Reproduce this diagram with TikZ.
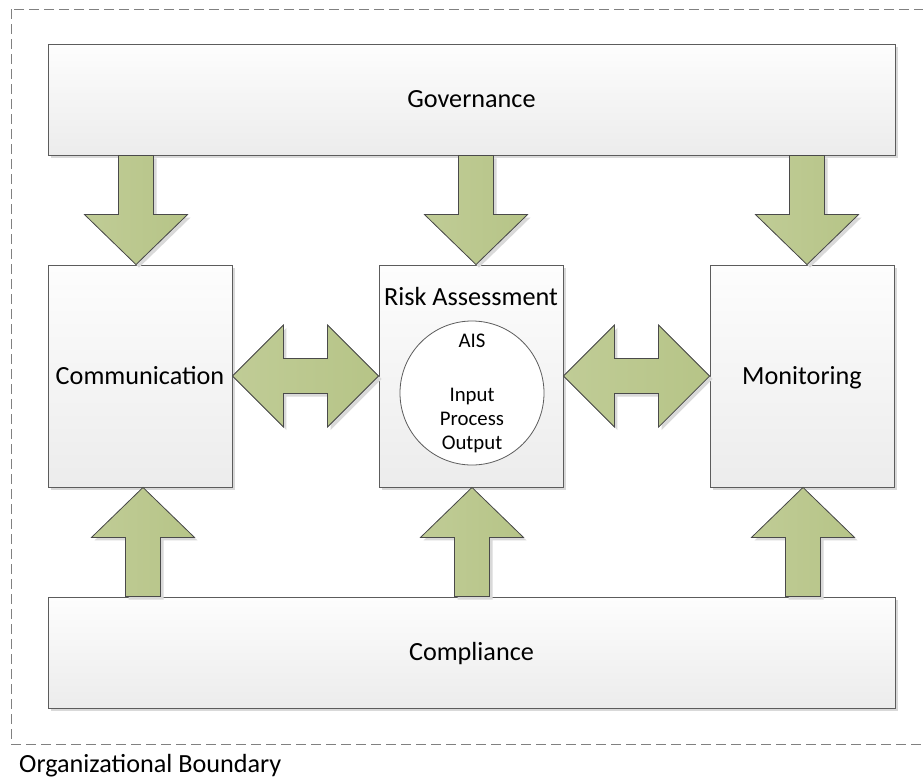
\documentclass[tikz,border=0pt]{standalone}
\usepackage{fontspec}
\setmainfont{Carlito}
\usetikzlibrary{calc,shadows}

\definecolor{boxedge}{HTML}{5C5C5C}
\definecolor{boxtop}{HTML}{FDFDFD}
\definecolor{boxbottom}{HTML}{ECECEC}
\definecolor{greenL}{HTML}{C0CC96}
\definecolor{greenR}{HTML}{B6C487}
\definecolor{arrowedge}{HTML}{4A4A4A}
\definecolor{shadowgray}{HTML}{D9D9D9}
\definecolor{boundary}{HTML}{808080}

\tikzset{
  panel/.style={draw=boxedge, line width=0.9pt, top color=boxtop, bottom color=boxbottom,
    drop shadow={shadow xshift=3pt, shadow yshift=-3pt, fill=shadowgray, opacity=1},
    inner sep=0pt, text height=18.6pt, text depth=2pt,
    font=\fontsize{26.2}{31}\selectfont},
  greenarrow/.style={draw=arrowedge, line width=0.8pt, line join=miter,
    left color=greenL, right color=greenR,
    preaction={fill=shadowgray, transform canvas={shift={(3pt,-3pt)}}}},
  caption/.style={inner sep=0pt, font=\fontsize{26.2}{31}\selectfont},
  aistext/.style={circle, draw=boxedge, line width=0.8pt, fill=white,
    minimum size=144pt, inner sep=0pt, align=center,
    font=\fontsize{20.8}{24}\selectfont},
}

% single block arrow: shaft starts at #1, tip at #2
\newcommand\blockarrow[2]{%
  \path ($(#2)!50pt!(#1)$) coordinate (hb);
  \filldraw[greenarrow] ($(#1)!17.5pt!90:(#2)$) -- ($(hb)!17.5pt!90:(#2)$)
    -- ($(hb)!51.5pt!90:(#2)$) -- (#2) -- ($(hb)!51.5pt!-90:(#2)$)
    -- ($(hb)!17.5pt!-90:(#2)$) -- ($(#1)!17.5pt!-90:(#2)$) -- cycle;}

% double block arrow between tips #1 and #2
\newcommand\twowayarrow[2]{%
  \path ($(#1)!51pt!(#2)$) coordinate (ha) ($(#2)!51pt!(#1)$) coordinate (hz);
  \filldraw[greenarrow] (#1) -- ($(ha)!51pt!90:(#2)$) -- ($(ha)!17.5pt!90:(#2)$)
    -- ($(hz)!17.5pt!-90:(#1)$) -- ($(hz)!51pt!-90:(#1)$) -- (#2)
    -- ($(hz)!51pt!90:(#1)$) -- ($(hz)!17.5pt!90:(#1)$)
    -- ($(ha)!17.5pt!-90:(#2)$) -- ($(ha)!51pt!-90:(#2)$) -- cycle;}

\begin{document}
\begin{tikzpicture}[x=1pt, y=-1pt]
  \useasboundingbox (0,0) rectangle (923,780);
  \clip (0,0) rectangle (923,780);
  \fill[white] (0,0) rectangle (923,780);

  % organizational boundary
  \draw[boundary, line width=0.9pt, dash pattern=on 10pt off 5pt]
    (11,9) rectangle (940,744);
  \node[caption, anchor=west] (orgb) at (19,766) {Organizational Boundary};

  % main panels
  \node[panel, minimum width=847pt, minimum height=111pt] (gov) at (471.5,99.5) {Governance};
  \node[panel, minimum width=847pt, minimum height=111pt] (comp) at (471.5,652.5) {Compliance};
  \node[panel, minimum width=184pt, minimum height=222pt] (comm) at (140,376) {Communication};
  \node[panel, minimum width=184pt, minimum height=222pt] (risk) at (471,376) {};
  \node[panel, minimum width=184pt, minimum height=222pt] (mon) at (802,376) {Monitoring};

  \node[caption] (risklabel) at ($(risk.north)+(0,32)$) {Risk Assessment};
  \node[aistext] (ais) at (472,393) {AIS\\[30pt]Input\\Process\\Output};

  % governance feeds down
  \coordinate (tipGC) at ($(comm.north)+(-4,0)$);
  \coordinate (baseGC) at (tipGC |- gov.south);
  \coordinate (tipGR) at ($(risk.north)+(5,0)$);
  \coordinate (baseGR) at (tipGR |- gov.south);
  \coordinate (tipGM) at ($(mon.north)+(5,0)$);
  \coordinate (baseGM) at (tipGM |- gov.south);
  \blockarrow{baseGC}{tipGC}
  \blockarrow{baseGR}{tipGR}
  \blockarrow{baseGM}{tipGM}

  % compliance feeds up
  \coordinate (tipCC) at ($(comm.south)+(3,0)$);
  \coordinate (baseCC) at (tipCC |- comp.north);
  \coordinate (tipCR) at ($(risk.south)+(1,0)$);
  \coordinate (baseCR) at (tipCR |- comp.north);
  \coordinate (tipCM) at ($(mon.south)+(1,0)$);
  \coordinate (baseCM) at (tipCM |- comp.north);
  \blockarrow{baseCC}{tipCC}
  \blockarrow{baseCR}{tipCR}
  \blockarrow{baseCM}{tipCM}

  % two-way exchanges
  \twowayarrow{comm.east}{risk.west}
  \twowayarrow{risk.east}{mon.west}
\end{tikzpicture}
\end{document}
